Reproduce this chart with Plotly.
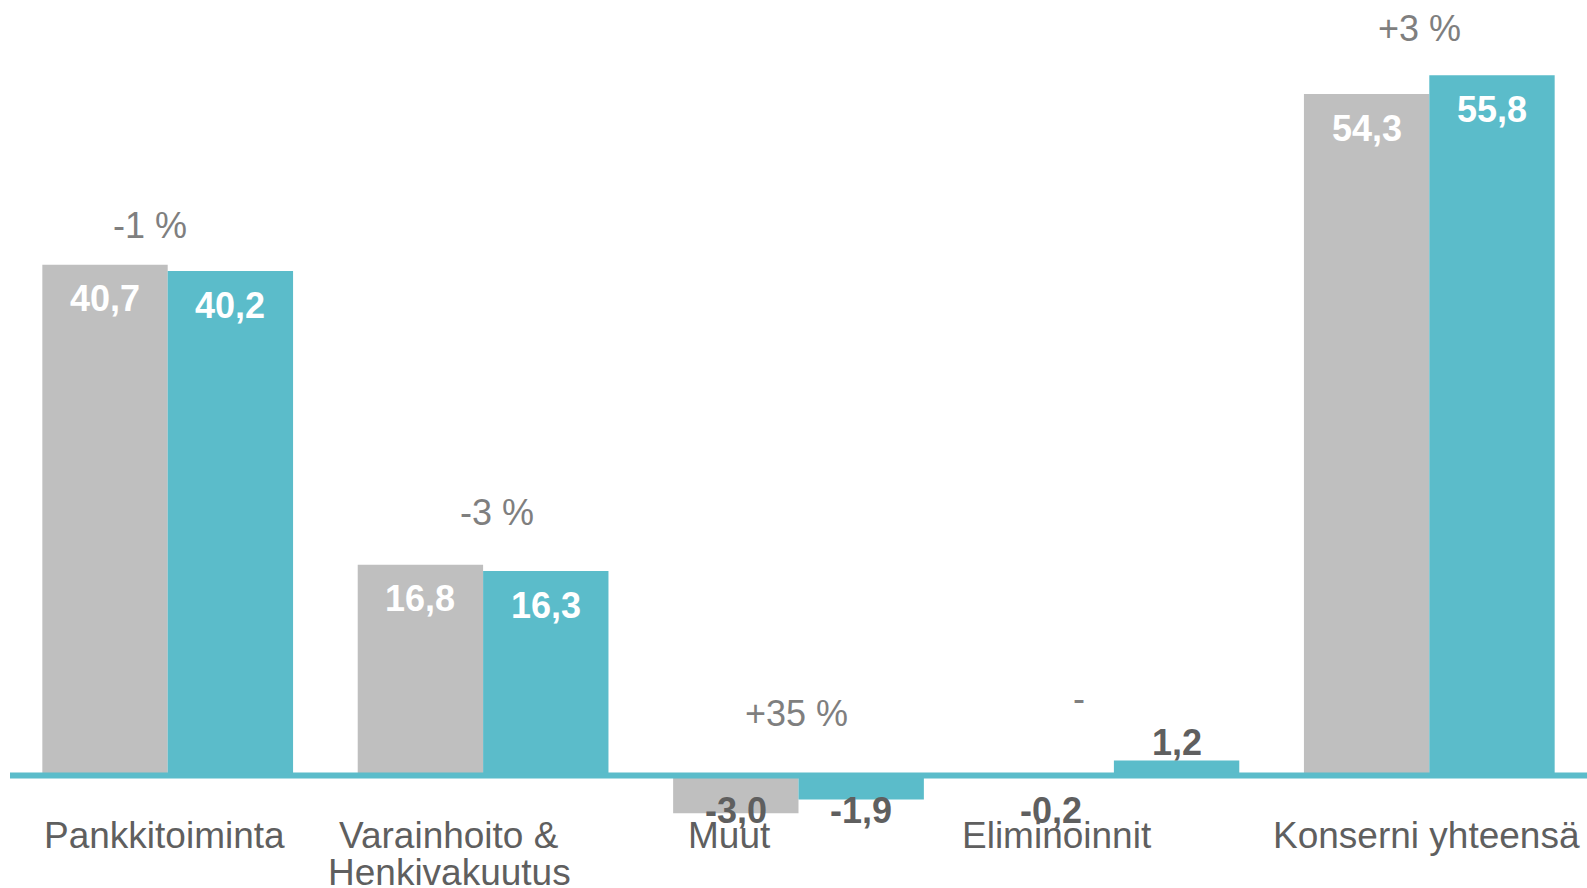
import plotly.graph_objects as go

categories = ["Pankkitoiminta", "Varainhoito &<br>Henkivakuutus", "Muut", "Eliminoinnit", "Konserni yhteensä"]
prev_values = [40.7, 16.8, -3.0, -0.2, 54.3]
curr_values = [40.2, 16.3, -1.9, 1.2, 55.8]
change_labels = ["-1 %", "-3 %", "+35 %", "-", "+3 %"]

GREY = "#BFBFBF"
TEAL = "#5BBCCA"
DARK = "#5F5F5F"
PCT = "#7F7F7F"
FONT = "Liberation Sans, Arial, sans-serif"

# manual nudges (px) so the texts sit where they were placed in the original slide
pct_dx = [-18, 14, -2, -35, -10]
pct_dy = [39, 52, 62, 62, 47]
cat_dx = [-3, -34, -69, -57, -3]


def fmt(v):
    return f"{v:.1f}".replace(".", ",")


x_idx = list(range(len(categories)))

fig = go.Figure()
fig.add_trace(go.Bar(x=x_idx, y=prev_values, marker_color=GREY, marker_line_width=0))
fig.add_trace(go.Bar(x=x_idx, y=curr_values, marker_color=TEAL, marker_line_width=0))

annotations = []
off = 0.199
for i in x_idx:
    for v, dx in ((prev_values[i], -off), (curr_values[i], off)):
        if v >= 5:
            y, ys, col = v, -34, "white"
        elif v > 0:
            y, ys, col = v, 18, DARK
        else:
            y, ys, col = 0, -35, DARK
        annotations.append(dict(x=i + dx, y=y, yshift=ys, text="<b>" + fmt(v) + "</b>",
                                showarrow=False, font=dict(size=36, color=col, family=FONT),
                                xanchor="center", yanchor="middle"))
    top = max(prev_values[i], curr_values[i], 0)
    annotations.append(dict(x=i, y=top, yshift=pct_dy[i], xshift=pct_dx[i], text=change_labels[i],
                            showarrow=False, font=dict(size=36, color=PCT, family=FONT),
                            xanchor="center", yanchor="middle"))
    # each line separately, the slide uses tighter line spacing than plotly
    for k, line in enumerate(categories[i].split("<br>")):
        annotations.append(dict(x=i, y=0, yshift=-37 - 37 * k, xshift=cat_dx[i], text=line,
                                showarrow=False, font=dict(size=37, color=DARK, family=FONT),
                                xanchor="center", yanchor="top"))

fig.update_layout(
    width=1587, height=888, autosize=False,
    margin=dict(l=10, r=0, t=0, b=0),
    paper_bgcolor="white", plot_bgcolor="white",
    barmode="group", bargap=0.205, bargroupgap=0,
    showlegend=False,
    xaxis=dict(range=[-0.5, 4.5], visible=False),
    yaxis=dict(range=[-8.96, 61.8], visible=False),
    annotations=annotations,
    shapes=[dict(type="line", xref="paper", x0=0, x1=1, yref="y", y0=0, y1=0,
                 line=dict(color=TEAL, width=6), layer="above")],
)

# drop the default page margin so the chart fills the window like the slide
fig.write_html("out.html", config={"displayModeBar": False},
               post_script="document.body.style.margin='0';document.body.style.overflow='hidden';")
